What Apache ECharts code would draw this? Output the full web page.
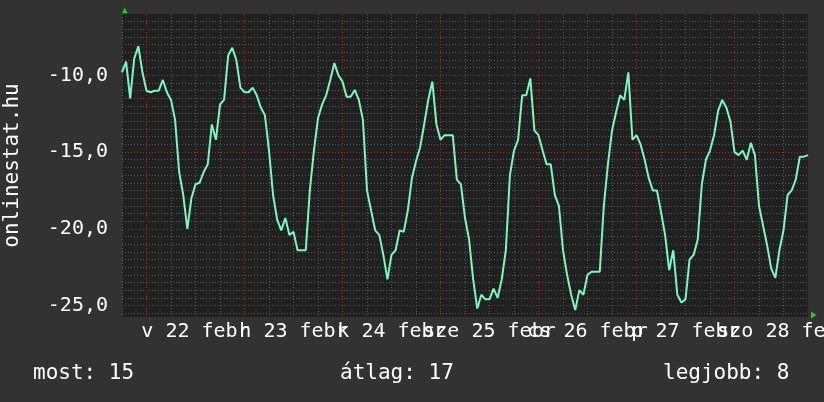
<!DOCTYPE html>
<html><head><meta charset="utf-8">
<script src="https://cdn.jsdelivr.net/npm/echarts@6/dist/echarts.min.js"></script>
<style>html,body{margin:0;padding:0;background:#323232}#c{width:824px;height:402px}</style>
</head><body><div id="c"></div>
<script>
// time in hours relative to Sunday 22 Feb 00:00, one sample per hour
const startHour = -6;
const stepHours = 1;
const dayLabels = ['v 22 febr', 'h 23 febr', 'k 24 febr', 'sze 25 febr', 'cs 26 febr', 'p 27 febr', 'szo 28 febr'];
const yLabelValues = [-25, -20, -15, -10];
const legendTexts = ['most: 15', 'átlag: 17', 'legjobb: 8'];
const axisTitle = 'onlinestat.hu';
const values = [
  -9.8, -9.1, -11.5, -8.9, -8.1, -9.8,
  -11.0, -11.1, -11.0, -11.0, -10.3, -11.1, -11.6, -12.9, -16.3, -17.8, -20.0, -18.0,
  -17.1, -17.0, -16.3, -15.8, -13.2, -14.2, -11.9, -11.6, -8.7, -8.2, -9.0, -10.8,
  -11.1, -11.1, -10.8, -11.3, -12.1, -12.6, -14.9, -17.8, -19.4, -20.1, -19.3, -20.4,
  -20.2, -21.4, -21.4, -21.4, -17.5, -14.9, -12.8, -11.9, -11.3, -10.3, -9.2, -10.0,
  -10.4, -11.4, -11.4, -10.95, -11.6, -12.9, -17.5, -18.8, -20.1, -20.4, -21.7, -23.3,
  -21.7, -21.4, -20.1, -20.2, -18.8, -16.7, -15.6, -14.7, -13.2, -11.6, -10.4, -13.2,
  -14.2, -13.9, -13.9, -13.9, -16.8, -17.1, -19.3, -20.7, -23.3, -25.2, -24.3, -24.6,
  -24.6, -23.9, -24.5, -23.3, -21.4, -16.5, -14.9, -14.2, -11.3, -11.3, -10.2, -13.6,
  -13.9, -14.9, -15.8, -15.8, -17.8, -18.5, -21.4, -23.0, -24.3, -25.3, -24.0, -24.3,
  -23.0, -22.8, -22.8, -22.8, -18.5, -15.8, -13.6, -12.4, -11.3, -11.6, -9.8, -14.2,
  -13.9, -14.5, -15.5, -16.7, -17.5, -17.5, -18.9, -20.4, -22.7, -21.4, -24.3, -24.8,
  -24.6, -22.0, -21.7, -20.7, -17.1, -15.5, -14.9, -13.9, -12.3, -11.6, -12.1, -13.0,
  -15.0, -15.2, -14.9, -15.5, -14.4, -15.2, -18.5, -19.8, -21.1, -22.6, -23.2, -21.4,
  -20.1, -17.8, -17.5, -16.8, -15.3, -15.3, -15.2
];

const FONT = 'DejaVu Sans Mono';
const TEXT = '#ffffff';
const MINOR = '#5a5a5a';
const MAJOR = '#8a3434';
const LINE = '#7cf7bf';

const seriesData = values.map((v, i) => [startHour + i * stepHours, v]);

// y grid: ticks every 0.25 from min; draw every 0.5 grey, every 5 red
const yGridColors = [];
for (let i = 0; i < 20; i++) {
  yGridColors.push(i === 3 ? MAJOR : (i % 2 === 1 ? MINOR : 'rgba(0,0,0,0)'));
}

const chart = echarts.init(document.getElementById('c'), null, {renderer: 'canvas'});
chart.setOption({
  animation: false,
  backgroundColor: '#323232',
  grid: {left: 122, right: 16, top: 14, bottom: 85, show: true, backgroundColor: '#202020',
         borderWidth: 0, containLabel: false, outerBoundsMode: 'none'},
  xAxis: {
    type: 'value', min: -6, max: 162, interval: 6,
    axisLine: {show: false}, axisTick: {show: false},
    splitLine: {show: true, showMinLine: true, showMaxLine: false,
      lineStyle: {color: [MINOR, MAJOR, MINOR, MINOR], type: [1, 2], width: 1}},
    axisLabel: {
      color: TEXT, fontFamily: FONT, fontSize: 20, margin: 5,
      showMinLabel: false, showMaxLabel: false, hideOverlap: false,
      formatter: function (v) {
        const h = ((v % 24) + 24) % 24;
        if (Math.abs(h - 12) < 1e-6) {
          const d = Math.floor(v / 24);
          return dayLabels[d] || '';
        }
        return '';
      }
    }
  },
  yAxis: {
    type: 'value', min: -25.75, max: -6, interval: 0.25,
    axisLine: {show: false}, axisTick: {show: false},
    splitLine: {show: true, showMinLine: true, showMaxLine: false,
      lineStyle: {color: yGridColors, type: [1, 2], width: 1}},
    axisLabel: {
      color: TEXT, fontFamily: FONT, fontSize: 20, margin: 14,
      showMinLabel: false, showMaxLabel: false, hideOverlap: false,
      formatter: function (v) {
        const r = Math.round(v);
        if (Math.abs(v - r) < 1e-6 && yLabelValues.indexOf(r) >= 0) {
          return r.toFixed(1).replace('.', ',');
        }
        return '';
      }
    },
    name: axisTitle, nameLocation: 'middle', nameGap: 99, nameRotate: 90,
    nameTextStyle: {color: TEXT, fontFamily: FONT, fontSize: 21}
  },
  series: [{
    type: 'line', data: seriesData, showSymbol: false, symbol: 'none',
    lineStyle: {color: LINE, width: 2}, z: 5, silent: true
  }],
  graphic: [
    {type: 'text', x: 33, y: 374, style: {text: legendTexts[0], fill: TEXT, font: '21px "DejaVu Sans Mono"', align: 'left', verticalAlign: 'middle'}},
    {type: 'text', x: 340, y: 374, style: {text: legendTexts[1], fill: TEXT, font: '21px "DejaVu Sans Mono"', align: 'left', verticalAlign: 'middle'}},
    {type: 'text', x: 663, y: 374, style: {text: legendTexts[2], fill: TEXT, font: '21px "DejaVu Sans Mono"', align: 'left', verticalAlign: 'middle'}},
    {type: 'polygon', shape: {points: [[122, 13], [127.5, 13], [124.7, 7.5]]}, style: {fill: '#14d414'}},
    {type: 'polygon', shape: {points: [[811, 311.5], [811, 318.5], [816.5, 315]]}, style: {fill: '#14d414'}}
  ]
});
</script>
</body></html>
